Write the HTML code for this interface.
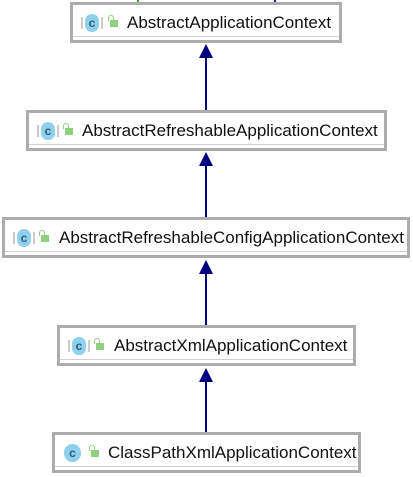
<!DOCTYPE html>
<html><head><style>
body{margin:0;width:413px;height:477px;background:#fff;position:relative;overflow:hidden;font-family:"Liberation Sans","Noto Sans CJK SC",sans-serif}
.b{position:absolute;box-sizing:border-box;border:3px solid #acacac;background:#fff;height:41px}
.b:after{content:"";position:absolute;left:0;right:0;bottom:3px;height:1px;background:#d0d0d0}
.t{position:absolute;top:8px;font-size:17px;color:#111;white-space:nowrap;letter-spacing:0px}
.ic{position:absolute;top:9px;width:14px;height:18px;border-radius:7px;background:#8fd0ec;font-size:12px;line-height:18px;text-align:center;color:#2b5f7a;font-weight:bold}
.ic.ab:before{content:"";position:absolute;left:-4px;top:3px;width:2px;height:12px;background:#ccc}
.ic.ab:after{content:"";position:absolute;right:-4px;top:3px;width:2px;height:12px;background:#ccc}
.lk{position:absolute;top:15px;width:8px;height:7px;background:#8fcf7f}
.lk:before{content:"";position:absolute;left:-2px;top:-5px;width:4px;height:5px;border:1px solid #8fcf7f;border-bottom:none;border-radius:3px 3px 0 0}
</style></head><body>
<div style="position:absolute;left:137px;top:0;width:2px;height:2px;background:#2a2"></div>
<div style="position:absolute;left:274px;top:0;width:2px;height:2px;background:#22a"></div>
<svg width="413" height="477" style="position:absolute;left:0;top:0">
<g fill="#000080" stroke="#000080">
<line x1="206" y1="56" x2="206" y2="111" stroke-width="2"/><polygon points="206,44 199,58 213,58" stroke="none"/>
<line x1="206" y1="164" x2="206" y2="218" stroke-width="2"/><polygon points="206,152 199,166 213,166" stroke="none"/>
<line x1="206" y1="272" x2="206" y2="326" stroke-width="2"/><polygon points="206,260 199,274 213,274" stroke="none"/>
<line x1="206" y1="380" x2="206" y2="433" stroke-width="2"/><polygon points="206,368 199,382 213,382" stroke="none"/>
</g></svg>
<div class="b" style="left:70px;top:2px;width:272px"><div class="ic ab" style="left:12px">c</div><div class="lk" style="left:37px"></div><div class="t" style="left:54px">AbstractApplicationContext</div></div>
<div class="b" style="left:26px;top:110px;width:361px"><div class="ic ab" style="left:12px">c</div><div class="lk" style="left:36px"></div><div class="t" style="left:53px">AbstractRefreshableApplicationContext</div></div>
<div class="b" style="left:2px;top:217px;width:408px"><div class="ic ab" style="left:12px">c</div><div class="lk" style="left:36px"></div><div class="t" style="left:54px">AbstractRefreshableConfigApplicationContext</div></div>
<div class="b" style="left:57px;top:325px;width:299px"><div class="ic ab" style="left:12px">c</div><div class="lk" style="left:36px"></div><div class="t" style="left:54px">AbstractXmlApplicationContext</div></div>
<div class="b" style="left:52px;top:432px;width:309px"><div class="ic" style="left:9px;width:17px;border-radius:9px">c</div><div class="lk" style="left:36px"></div><div class="t" style="left:53px">ClassPathXmlApplicationContext</div></div>
</body></html>
